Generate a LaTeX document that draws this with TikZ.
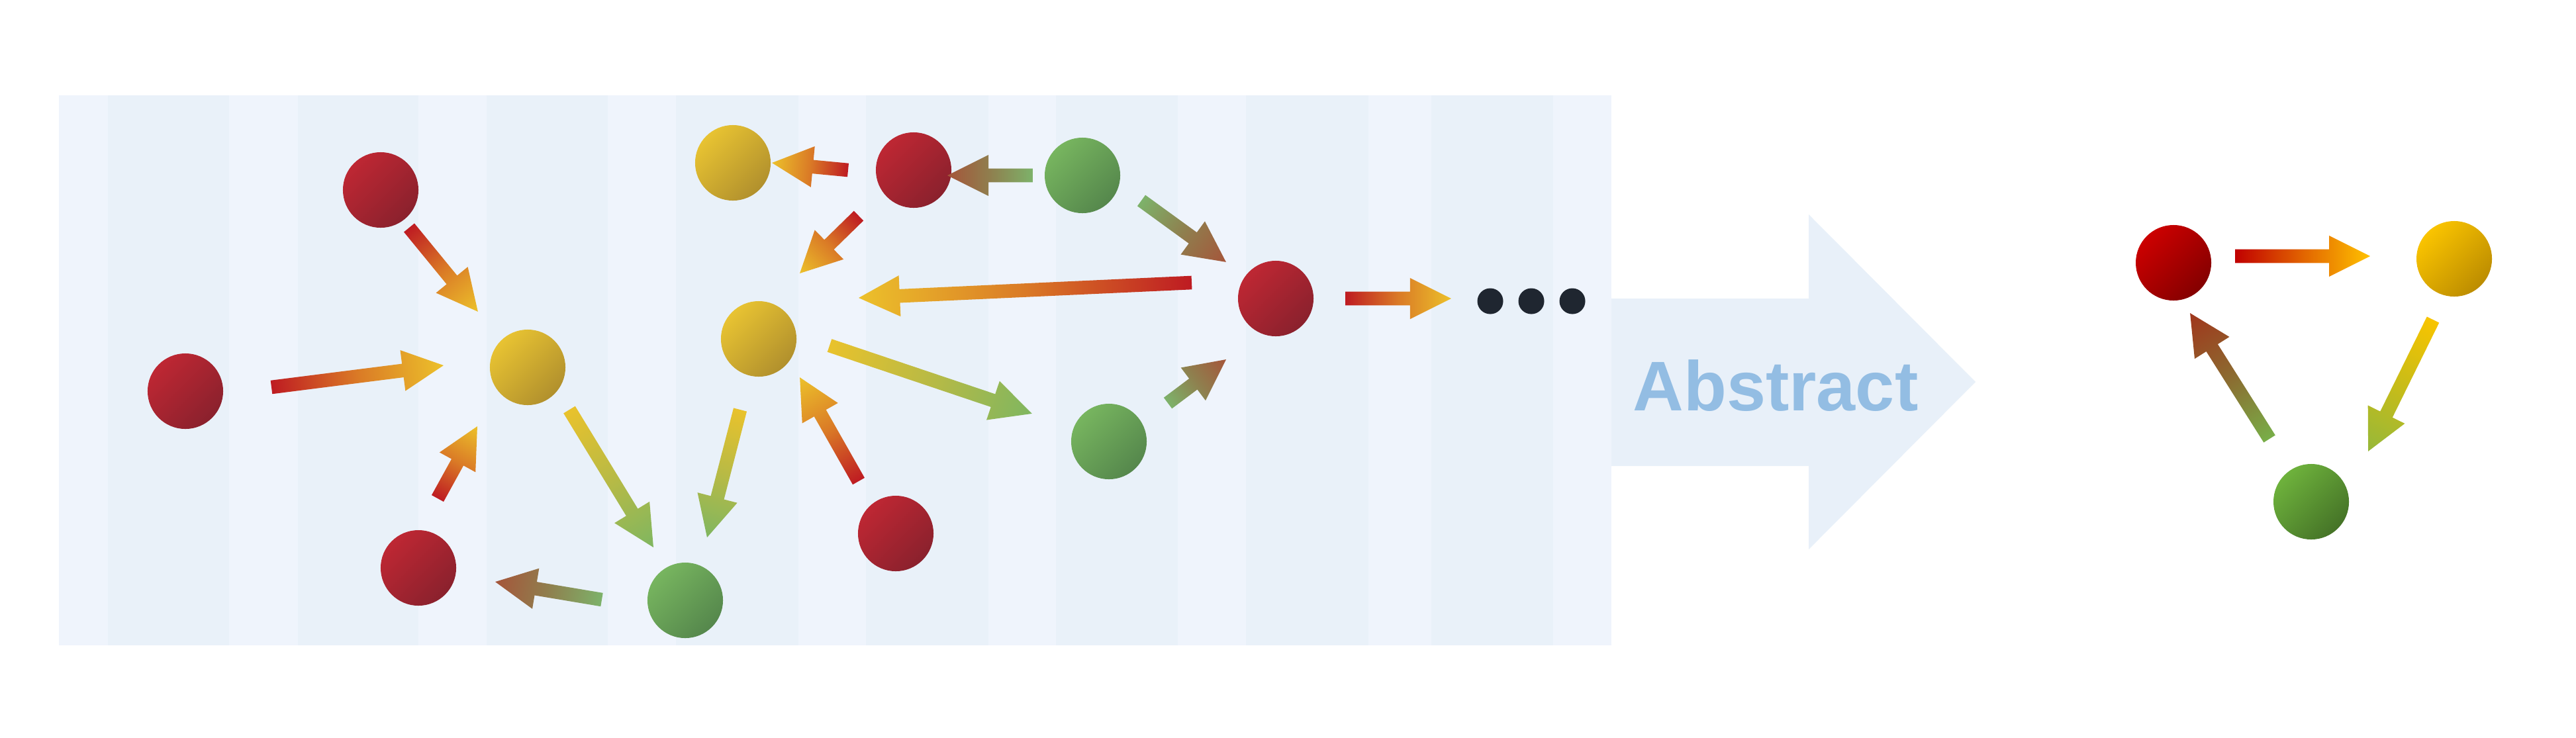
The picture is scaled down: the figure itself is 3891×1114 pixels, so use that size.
\documentclass[tikz,border=0pt]{standalone}
\usepackage{fontspec}
\setmainfont{Liberation Sans}
\usetikzlibrary{calc}

\definecolor{panelA}{HTML}{EFF4FC}
\definecolor{panelB}{HTML}{E9F1F9}
\definecolor{bigarrowc}{HTML}{E8F0F9}
\definecolor{abstc}{HTML}{93BDE3}
\definecolor{dotc}{HTML}{1F2630}
% node colours (panel)
\definecolor{nR1}{HTML}{BE2733}\definecolor{nR2}{HTML}{8A212D}
\definecolor{nY1}{HTML}{E8C332}\definecolor{nY2}{HTML}{B1902D}
\definecolor{nG1}{HTML}{77B55F}\definecolor{nG2}{HTML}{55874C}
% node colours (right)
\definecolor{mR1}{HTML}{CC0000}\definecolor{mR2}{HTML}{840000}
\definecolor{mY1}{HTML}{FAC400}\definecolor{mY2}{HTML}{BC8C00}
\definecolor{mG1}{HTML}{6EB23C}\definecolor{mG2}{HTML}{457327}
% arrow colours (panel)
\definecolor{arR}{HTML}{BE1B22}\definecolor{arO}{HTML}{DA7A26}\definecolor{arY}{HTML}{ECC12B}
\definecolor{arYY}{HTML}{E9C22C}\definecolor{arYG}{HTML}{B8BA45}\definecolor{arG}{HTML}{7FB660}
\definecolor{arGG}{HTML}{7DB26A}\definecolor{arGB}{HTML}{8F7F4E}\definecolor{arB}{HTML}{A5553A}
% arrow colours (right)
\definecolor{brR}{HTML}{C00000}\definecolor{brO}{HTML}{E26400}\definecolor{brY}{HTML}{FFC200}
\definecolor{brYY}{HTML}{F8C400}\definecolor{brYG}{HTML}{C8BC18}\definecolor{brG}{HTML}{96B83A}
\definecolor{brGG}{HTML}{78AE48}\definecolor{brGB}{HTML}{8C6A30}\definecolor{brB}{HTML}{A0361C}

\pgfdeclarehorizontalshading{shRY}{100bp}{color(0bp)=(arR); color(25bp)=(arR); color(50bp)=(arO); color(75bp)=(arY); color(100bp)=(arY)}
\pgfdeclarehorizontalshading{shYG}{100bp}{color(0bp)=(arYY); color(25bp)=(arYY); color(50bp)=(arYG); color(75bp)=(arG); color(100bp)=(arG)}
\pgfdeclarehorizontalshading{shGR}{100bp}{color(0bp)=(arGG); color(25bp)=(arGG); color(50bp)=(arGB); color(75bp)=(arB); color(100bp)=(arB)}
\pgfdeclarehorizontalshading{thRY}{100bp}{color(0bp)=(brR); color(25bp)=(brR); color(50bp)=(brO); color(75bp)=(brY); color(100bp)=(brY)}
\pgfdeclarehorizontalshading{thYG}{100bp}{color(0bp)=(brYY); color(25bp)=(brYY); color(50bp)=(brYG); color(75bp)=(brG); color(100bp)=(brG)}
\pgfdeclarehorizontalshading{thGR}{100bp}{color(0bp)=(brGG); color(25bp)=(brGG); color(50bp)=(brGB); color(75bp)=(brB); color(100bp)=(brB)}

\tikzset{
  ballbase/.style={circle, inner sep=0pt, minimum size=1.14cm, draw=none},
  ballR/.style={ballbase, top color=nR1, bottom color=nR2, shading angle=45},
  ballY/.style={ballbase, top color=nY1, bottom color=nY2, shading angle=45},
  ballG/.style={ballbase, top color=nG1, bottom color=nG2, shading angle=45},
  bigR/.style={ballbase, top color=mR1, bottom color=mR2, shading angle=45},
  bigY/.style={ballbase, top color=mY1, bottom color=mY2, shading angle=45},
  bigG/.style={ballbase, top color=mG1, bottom color=mG2, shading angle=45},
  blackdot/.style={circle, inner sep=0pt, minimum size=0.39cm, fill=dotc, draw=none},
  abstxt/.style={text=abstc, font=\fontsize{30.2pt}{36pt}\selectfont\bfseries, inner sep=0pt},
}

% gradient arrow: #1 source node, #2 tail offset, #3 target node, #4 tip offset, #5 shading
\newcommand\garrow[5]{%
  \path ($(#1)+#2$) coordinate (gT) ($(#3)+#4$) coordinate (gP);
  \pgfpointdiff{\pgfpointanchor{gT}{center}}{\pgfpointanchor{gP}{center}}%
  \pgfgetlastxy{\gdx}{\gdy}%
  \pgfmathsetmacro\gang{atan2(\gdy,\gdx)}%
  \pgfmathsetmacro\glen{veclen(\gdx,\gdy)}%
  \begin{scope}[transform canvas={shift={(gT)},rotate=\gang}]
    \shade[shading=#5] (0pt,-0.103cm) -- ({\glen pt-0.62cm},-0.103cm) -- ({\glen pt-0.62cm},-0.31cm)
      -- (\glen pt,0pt) -- ({\glen pt-0.62cm},0.31cm) -- ({\glen pt-0.62cm},0.103cm) -- (0pt,0.103cm) -- cycle;
  \end{scope}}

\begin{document}
\begin{tikzpicture}[x=0.01cm,y=-0.01cm]
\useasboundingbox[fill=white] (0,0) rectangle (3891,1114);

% big "Abstract" arrow
\fill[bigarrowc] (2434,451) -- (2732,451) -- (2732,324) -- (2984,577) -- (2732,830) -- (2732,704) -- (2434,704) -- cycle;
\node[abstxt, anchor=base] (abs) at (2682,620) {Abstract};

% striped panel
\fill[panelA] (89,144) rectangle (2434,975);
\foreach \xa/\xb in {163/346, 450/632, 735/918, 1021/1206, 1308/1493, 1595/1779, 1882/2067, 2162/2346}
  \fill[panelB] (\xa,144) rectangle (\xb,975);

% nodes of the graph
\node[ballR] (R1) at (280,591) {};
\node[ballR] (R2) at (575,287) {};
\node[ballY] (Y1) at (797,555) {};
\node[ballR] (R3) at (632,858) {};
\node[ballG] (G1) at (1035,907) {};
\node[ballY] (Y2) at (1107,246) {};
\node[ballY] (Y3) at (1146,512) {};
\node[ballR] (R4) at (1380,257) {};
\node[ballG] (G2) at (1635,265) {};
\node[ballR] (R5) at (1927,451) {};
\node[ballG] (G3) at (1675,667) {};
\node[ballR] (R6) at (1353,806) {};
\node[blackdot] (d1) at (2251,455) {};
\node[blackdot] (d2) at (2313,455) {};
\node[blackdot] (d3) at (2375,455) {};

% abstracted cycle
\node[bigR] (A) at (3283,397) {};
\node[bigY] (B) at (3707,391) {};
\node[bigG] (C) at (3491,758) {};

% arrows in the panel
\garrow{R1}{(130,-6)}{Y1}{(-127,-3)}{shRY}
\garrow{R2}{(43,57)}{Y1}{(-75,-84)}{shRY}
\garrow{R3}{(29,-105)}{Y1}{(-76,89)}{shRY}
\garrow{Y1}{(63,64)}{G1}{(-48,-80)}{shYG}
\garrow{G1}{(-126,-1)}{R3}{(116,21)}{shGR}
\garrow{R4}{(-99,0)}{Y2}{(59,0)}{shRY}
\garrow{R4}{(-83,69)}{Y3}{(62,-99)}{shRY}
\garrow{G2}{(-75,0)}{R4}{(51,8)}{shGR}
\garrow{G2}{(89,38)}{R5}{(-75,-55)}{shGR}
\garrow{R5}{(-127,-24)}{Y3}{(151,-62)}{shRY}
\garrow{Y3}{(107,10)}{G3}{(-116,-42)}{shYG}
\garrow{G3}{(89,-58)}{R5}{(-75,92)}{shGR}
\garrow{R6}{(-56,-79)}{Y3}{(62,58)}{shRY}
\garrow{Y3}{(-28,107)}{G1}{(33,-95)}{shYG}
\garrow{R5}{(105,0)}{d1}{(-59,-4)}{shRY}

% arrows of the cycle
\garrow{A}{(93,-10)}{B}{(-127,-4)}{thRY}
\garrow{B}{(-32,92)}{C}{(86,-76)}{thYG}
\garrow{C}{(-63,-95)}{A}{(25,76)}{thGR}
\end{tikzpicture}
\end{document}
